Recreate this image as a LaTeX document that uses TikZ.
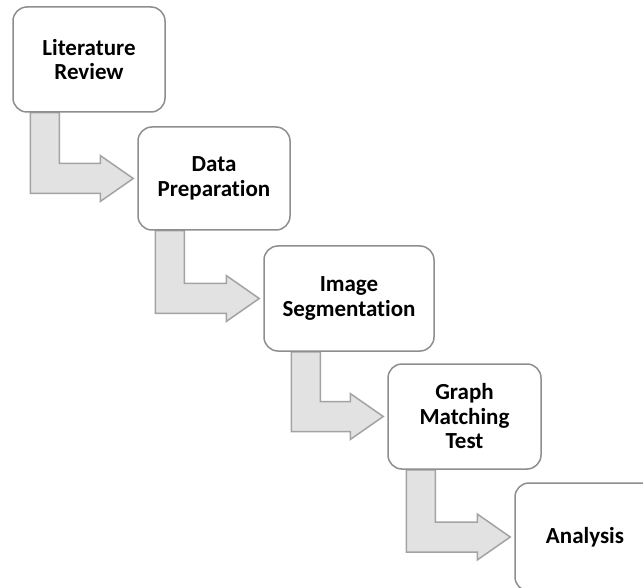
\documentclass[tikz,border=0pt]{standalone}
\usepackage{fontspec}
\setmainfont{Carlito}[Ligatures=NoCommon]
\usetikzlibrary{calc}

\definecolor{boxline}{HTML}{8E8E8E}
\definecolor{arrowfill}{HTML}{E2E2E2}
\definecolor{arrowline}{HTML}{A3A3A3}

\pgfdeclarelayer{background}
\pgfsetlayers{background,main}

\tikzset{
  stage/.style={draw=boxline, line width=1.5pt, fill=white, rounded corners=14pt,
    align=center, inner sep=0pt,
    font=\fontsize{23}{24.5}\selectfont\bfseries},
  flowarrow/.style={draw=arrowline, fill=arrowfill, line width=1.5pt, line join=miter}
}

% Bent block arrow: down from the bottom of #1, then right into the west side of #2.
% #3 = distance of the shaft's left edge from the left side of #1.
\newcommand\bentarrow[3]{%
  \path[flowarrow] let \p1=(#1.south west), \p2=(#2.west) in
    (\x1+#3,\y1) -- (\x1+#3+29pt,\y1) -- (\x1+#3+29pt,\y2+15pt)
    -- (\x2-37pt,\y2+15pt) -- (\x2-37pt,\y2+23pt) -- (\x2-4pt,\y2)
    -- (\x2-37pt,\y2-23pt) -- (\x2-37pt,\y2-15pt) -- (\x1+#3,\y2-15pt) -- cycle;}

\begin{document}
\begin{tikzpicture}[x=1pt, y=-1pt]
  \useasboundingbox (0,0) rectangle (643,588);
  \clip (0,0) rectangle (643,588);

  % stages
  \node[stage, minimum width=152pt, minimum height=105pt] (lit)  at (89,59.5)    {Literature\\Review};
  \node[stage, minimum width=152pt, minimum height=103pt] (data) at (214,178.5)  {Data\\Preparation};
  \node[stage, minimum width=170pt, minimum height=105pt] (seg)  at (349,298.5)  {Image\\Segmentation};
  \node[stage, minimum width=153pt, minimum height=105pt] (gmt)  at (464.5,416.5){Graph\\Matching\\Test};
  \node[stage, minimum width=140pt, minimum height=108pt] (ana)  at (585,537)    {Analysis};

  % connecting arrows, tucked under the stages
  \begin{pgfonlayer}{background}
    \bentarrow{lit}{data}{18pt}
    \bentarrow{data}{seg}{18pt}
    \bentarrow{seg}{gmt}{28pt}
    \bentarrow{gmt}{ana}{19pt}
  \end{pgfonlayer}
\end{tikzpicture}
\end{document}
